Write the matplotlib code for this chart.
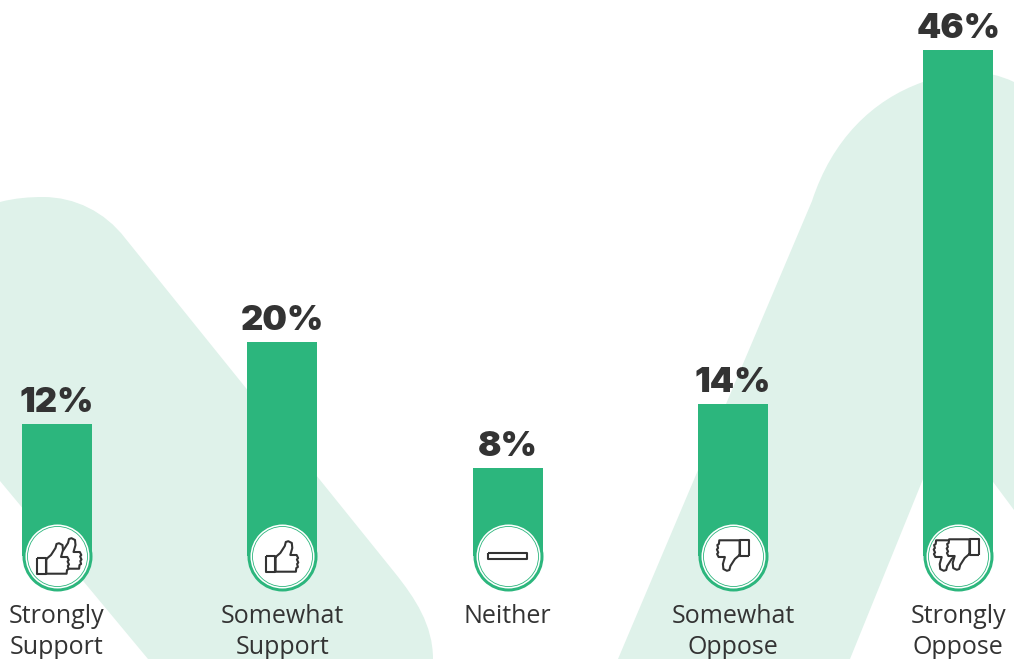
import matplotlib
matplotlib.use("Agg")
import matplotlib.pyplot as plt
from matplotlib.path import Path
from matplotlib.patches import PathPatch
from matplotlib.transforms import Affine2D

# ---------------------------------------------------------------------------
# Data
# ---------------------------------------------------------------------------

categories = ["Strongly\nSupport", "Somewhat\nSupport", "Neither",
              "Somewhat\nOppose", "Strongly\nOppose"]
value_labels = ["12%", "20%", "8%", "14%", "46%"]
# bar heights as drawn in the picture (not quite the rounded labels)
bar_heights = [12.0, 19.45, 8.0, 13.8, 46.0]
icons = ["up2", "up1", "flat", "down1", "down2"]

GREEN = "#2CB67D"
BLOB = "#DFF2EA"
DARK = "#333333"

plt.rcParams["font.family"] = ["Open Sans", "DejaVu Sans"]

W, H = 1014, 659
fig = plt.figure(figsize=(W / 100, H / 100), dpi=100, facecolor="white")

# ---------------------------------------------------------------------------
# Background shapes, in picture pixels
# ---------------------------------------------------------------------------

bg = fig.add_axes([0, 0, 1, 1])
bg.set_xlim(0, W)
bg.set_ylim(H, 0)
bg.axis("off")

M, L, C, Z = Path.MOVETO, Path.LINETO, Path.CURVE4, Path.CLOSEPOLY

left_blob = Path(
    [(0, 202), (15, 198), (30, 197), (43, 197), (75, 197), (105, 212), (125, 238),
     (395, 573), (415, 598), (433, 625), (433, 659), (148, 659), (0, 481), (0, 202)],
    [M, C, C, C, C, C, C, L, C, C, C, L, L, Z])
right_blob = Path(
    [(618, 659), (812, 201), (832, 140), (872, 100), (923, 82), (955, 70), (985, 68),
     (1014, 82), (1014, 510), (947, 420), (850, 659), (618, 659)],
    [M, L, C, C, C, C, C, C, L, L, L, Z])
for blob in (left_blob, right_blob):
    bg.add_patch(PathPatch(blob, facecolor=BLOB, edgecolor="none"))

# ---------------------------------------------------------------------------
# Bars
# ---------------------------------------------------------------------------

spacing = 225.3
zero_px = 556
ax = fig.add_axes([0, (H - zero_px) / H, 1, zero_px / H])
ax.patch.set_visible(False)
ax.set_xlim(-57 / spacing, (W - 57) / spacing)
ax.set_ylim(0, zero_px / 11)
for s in ax.spines.values():
    s.set_visible(False)
ax.set_yticks([])

x = list(range(len(categories)))
ax.bar(x, bar_heights, width=70 / spacing, color=GREEN)
ax.set_xticks(x, categories)
ax.tick_params(axis="x", length=0, pad=34.5, labelsize=18, labelcolor=DARK)
for lab in ax.get_xticklabels():
    lab.set_linespacing(1.32)

for xi, h, txt in zip(x, bar_heights, value_labels):
    ax.annotate(txt, (xi, h), xytext=(0, 8.5), textcoords="offset points",
                ha="center", va="baseline", fontsize=25, fontweight=900, color=DARK,
                family=["Inter", "DejaVu Sans"])


def px_size(d):
    # scatter area for a diameter given in pixels
    return (d * 0.72) ** 2


ax.scatter(x, [0] * 5, s=px_size(70), color=GREEN, linewidths=0, clip_on=False, zorder=3)
ax.scatter(x, [0] * 5, s=px_size(64), color="white", linewidths=0, clip_on=False, zorder=4)
ax.scatter(x, [0] * 5, s=px_size(60), facecolor="white", edgecolor=GREEN, linewidths=0.6,
           clip_on=False, zorder=5)

# ---------------------------------------------------------------------------
# Thumb icons, drawn around each disc centre
# ---------------------------------------------------------------------------

hand = [(-6.7, 1), (-2, -3), (2.5, -10), (3.5, -14), (6, -14.8), (9.5, -13), (10, -8), (8, -1),
        (14.3, -1), (15.8, 2), (14.6, 3.5), (16, 6.5), (14.8, 8), (15.6, 11), (14, 12),
        (13.6, 15.7), (-6.7, 15.7), (-6.7, 1)]
cuff = [(-16, 0), (-7, 0), (-7, 16), (-16, 16), (-16, 0)]
bar_icon = [(-19.5, -3.3), (19.5, -3.3), (19.5, 3.3), (-19.5, 3.3), (-19.5, -3.3)]


def draw_shape(pts, base):
    ax.add_patch(PathPatch(Path(pts), facecolor="white", edgecolor=DARK, linewidth=1.5,
                           joinstyle="round", transform=base, clip_on=False, zorder=6))


def draw_thumb(base, dx=0, dy=0):
    t = Affine2D().translate(dx, dy) + base
    draw_shape(hand, t)
    draw_shape(cuff, t)


for xi, icon in zip(x, icons):
    cx, cy = ax.transData.transform((xi, 0))
    up = Affine2D().scale(1, -1).translate(cx, cy)
    down = Affine2D().scale(-1, 1).translate(cx, cy)
    if icon == "up1":
        draw_thumb(up)
    elif icon == "up2":
        draw_shape(hand, Affine2D().translate(8.5, -3) + up)
        draw_thumb(up, -4, 2)
    elif icon == "flat":
        draw_shape(bar_icon, up)
    elif icon == "down1":
        draw_thumb(down)
    elif icon == "down2":
        draw_shape(hand, Affine2D().translate(8.5, 0) + down)
        draw_thumb(down, 4.5 - 9, 1)

fig.savefig("out.png", dpi=100)
